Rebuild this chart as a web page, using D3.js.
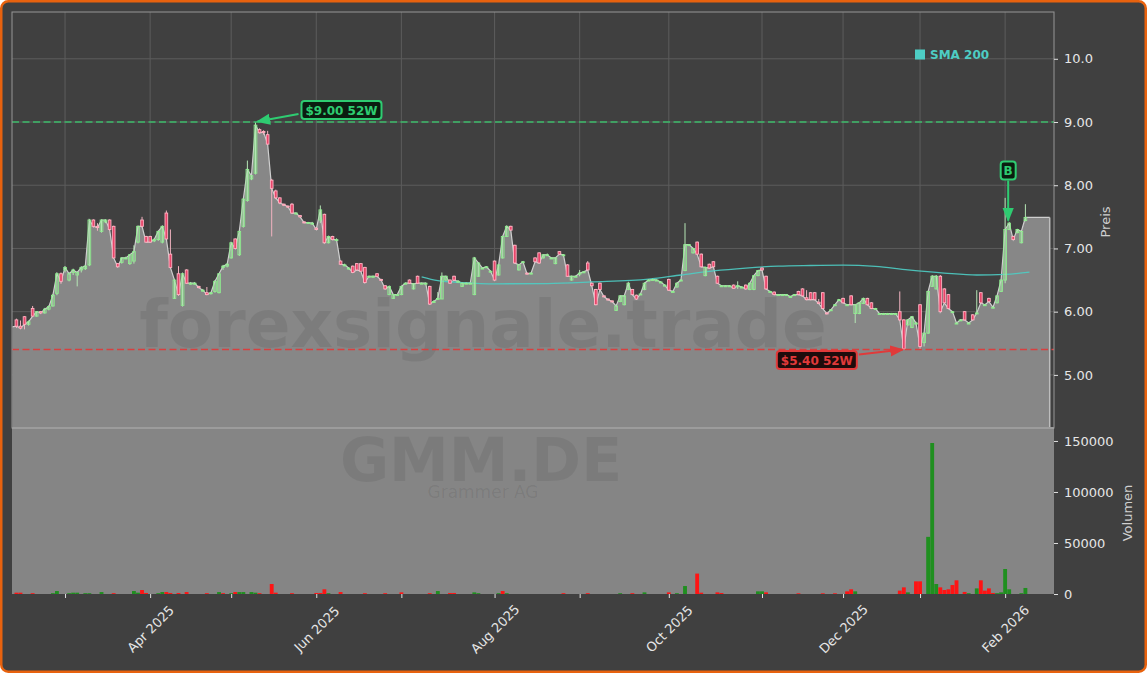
<!DOCTYPE html>
<html>
<head>
<meta charset="utf-8">
<script src="https://cdn.jsdelivr.net/npm/d3@7"></script>
<style>
  body { margin: 0; background: #fff; }
  svg { display: block; font-family: "DejaVu Sans", sans-serif; }
</style>
</head>
<body>
<svg id="chart"></svg>
<script>
// daily bars, trading day index 0 = 13 Feb 2025
const openP = [
  5.87,5.77,5.92,5.80,6.05,5.93,6.00,5.98,6.04,6.09, 6.29,6.60,6.66,6.50,6.62,6.58,6.66,6.68,6.74,7.45,
  7.35,7.27,7.42,7.45,7.35,6.76,6.78,6.85,6.76,6.80, 7.10,7.45,7.19,7.19,7.12,7.14,7.10,7.56,6.91,6.21,
  6.60,6.10,6.66,6.45,6.45,6.40,6.34,6.30,6.29,6.32, 6.30,6.70,6.72,6.85,7.15,6.90,7.35,7.76,8.10,8.19,
  8.88,8.85,8.80,8.08,7.91,7.80,7.70,7.67,7.70,7.56, 7.52,7.42,7.41,7.40,7.32,7.45,7.54,7.09,7.19,7.14,
  6.80,6.74,6.69,6.72,6.76,6.76,6.70,6.56,6.56,6.60, 6.51,6.41,6.27,6.21,6.27,6.27,6.45,6.50,6.36,6.56,
  6.45,6.45,6.40,6.16,6.21,6.20,6.50,6.50,6.56,6.48, 6.40,6.45,6.45,6.27,6.56,6.69,6.71,6.64,6.80,6.58,
  6.85,7.19,7.35,7.05,6.66,6.79,6.61,6.60,6.85,6.93, 6.85,6.90,6.85,6.76,6.95,6.90,6.74,6.50,6.56,6.61,
  6.63,6.77,6.45,6.35,6.45,6.25,6.20,6.17,6.02,6.16, 6.11,6.35,6.35,6.26,6.28,6.35,6.50,6.51,6.50,6.47,
  6.42,6.51,6.32,6.39,6.50,6.65,7.06,6.93,7.10,6.91, 6.57,6.75,6.79,6.56,6.41,6.41,6.41,6.42,6.41,6.39,
  6.42,6.35,6.35,6.57,6.69,6.56,6.32,6.31,6.27,6.27, 6.27,6.24,6.27,6.32,6.36,6.22,6.30,6.30,6.15,6.30,
  5.98,6.03,6.11,6.19,6.21,6.11,6.25,5.97,5.97,6.13, 6.21,6.14,6.05,5.97,5.97,5.97,5.97,5.97,6.00,5.87,
  5.79,5.75,5.82,6.11,5.51,5.66,6.40,6.36,6.56,6.36, 6.27,6.00,5.82,5.87,6.00,5.82,5.95,5.98,6.30,6.11,
  6.21,6.07,6.14,6.32,6.50,7.30,7.19,7.25,7.09,7.44
];
const highP = [
  5.89,5.86,5.93,5.86,6.09,6.01,6.01,6.06,6.10,6.28, 6.62,6.62,6.72,6.62,6.68,6.64,6.72,6.74,7.46,7.46,
  7.40,7.46,7.46,7.46,7.36,6.77,6.86,6.87,6.91,7.05, 7.36,7.50,7.20,7.20,7.16,7.28,7.36,7.60,7.30,6.52,
  6.72,6.61,6.67,6.47,6.47,6.41,6.36,6.39,6.31,6.50, 6.61,6.74,6.77,7.10,7.16,7.28,7.80,8.39,8.16,9.00,
  8.90,8.87,8.86,8.10,7.93,7.81,7.71,7.68,7.72,7.57, 7.53,7.43,7.42,7.42,7.34,7.68,7.55,7.20,7.20,7.16,
  6.81,6.76,6.70,6.73,6.77,6.77,6.71,6.57,6.57,6.61, 6.52,6.42,6.41,6.28,6.28,6.41,6.46,6.51,6.45,6.57,
  6.46,6.46,6.41,6.18,6.31,6.62,6.57,6.51,6.57,6.50, 6.46,6.46,6.46,6.86,6.78,6.70,6.72,6.65,6.81,6.75,
  7.20,7.36,7.36,7.06,6.75,6.80,6.62,6.62,6.86,6.94, 6.91,6.92,6.86,6.86,6.96,6.91,6.75,6.57,6.57,6.66,
  6.64,6.80,6.46,6.36,6.46,6.26,6.21,6.18,6.10,6.26, 6.26,6.46,6.36,6.27,6.29,6.46,6.51,6.52,6.51,6.48,
  6.43,6.52,6.33,6.46,6.51,7.40,7.07,7.01,7.11,6.92, 6.71,6.76,6.80,6.57,6.42,6.42,6.42,6.43,6.48,6.40,
  6.43,6.46,6.58,6.66,6.70,6.57,6.33,6.32,6.28,6.28, 6.28,6.25,6.28,6.33,6.37,6.34,6.31,6.31,6.20,6.31,
  5.99,6.04,6.12,6.20,6.22,6.12,6.26,6.12,6.15,6.22, 6.22,6.15,6.06,5.98,5.98,5.98,5.98,5.98,6.32,5.88,
  5.88,5.93,5.84,6.12,5.67,6.33,6.58,6.58,6.58,6.37, 6.28,6.01,5.83,5.88,6.01,5.83,5.96,6.34,6.31,6.12,
  6.22,6.08,6.26,6.51,7.80,7.41,7.20,7.31,7.28,7.70
];
const lowP = [
  5.74,5.72,5.72,5.78,5.92,5.92,5.96,5.97,6.02,6.08, 6.26,6.44,6.62,6.48,6.58,6.40,6.62,6.66,6.72,7.33,
  7.28,7.25,7.40,7.28,6.84,6.70,6.76,6.83,6.74,6.76, 7.08,7.33,7.10,7.10,7.10,7.12,7.08,7.14,6.68,6.20,
  6.25,6.08,6.44,6.43,6.43,6.37,6.32,6.26,6.27,6.30, 6.29,6.66,6.70,6.84,7.00,6.88,7.33,7.74,8.08,8.17,
  8.82,8.80,8.64,7.19,7.78,7.70,7.67,7.64,7.55,7.54, 7.49,7.40,7.39,7.38,7.29,7.40,7.08,7.08,7.13,7.12,
  6.74,6.72,6.67,6.61,6.65,6.63,6.45,6.54,6.54,6.55, 6.49,6.35,6.26,6.20,6.26,6.26,6.44,6.44,6.35,6.44,
  6.44,6.44,6.11,6.15,6.20,6.20,6.49,6.45,6.50,6.47, 6.39,6.44,6.44,6.26,6.55,6.68,6.70,6.63,6.49,6.57,
  6.84,7.18,7.28,6.76,6.65,6.78,6.59,6.59,6.78,6.76, 6.84,6.89,6.84,6.75,6.90,6.89,6.55,6.49,6.55,6.56,
  6.62,6.65,6.40,6.10,6.34,6.23,6.18,6.15,6.01,6.15, 6.10,6.34,6.26,6.19,6.27,6.34,6.49,6.50,6.49,6.46,
  6.41,6.33,6.31,6.38,6.49,6.64,7.05,6.92,6.90,6.70, 6.56,6.68,6.70,6.44,6.40,6.40,6.40,6.36,6.36,6.38,
  6.35,6.34,6.34,6.56,6.65,6.35,6.31,6.26,6.26,6.26, 6.26,6.23,6.26,6.26,6.24,6.18,6.18,6.18,6.12,6.04,
  5.96,6.02,6.10,6.18,6.13,6.10,6.10,5.82,5.96,6.12, 6.10,6.04,6.04,5.96,5.96,5.96,5.96,5.96,5.85,5.40,
  5.78,5.74,5.80,5.40,5.45,5.65,6.39,6.35,5.99,6.13, 6.04,5.99,5.81,5.86,5.86,5.81,5.86,5.97,6.13,6.10,
  6.15,6.06,6.13,6.31,6.45,7.29,7.13,7.24,7.08,7.43
];
// close runs six sessions past the last candle (flat to the end of the chart)
const closeP = [
  5.77,5.74,5.80,5.84,5.93,6.00,5.98,6.04,6.08,6.26, 6.60,6.48,6.70,6.60,6.66,6.62,6.70,6.72,7.45,7.35,
  7.33,7.45,7.45,7.30,6.85,6.71,6.85,6.85,6.90,6.95, 7.35,7.35,7.10,7.10,7.14,7.27,7.35,7.15,6.70,6.50,
  6.27,6.60,6.45,6.45,6.45,6.38,6.34,6.27,6.30,6.48, 6.60,6.72,6.75,7.09,7.00,7.27,7.78,8.25,8.15,8.95,
  8.83,8.84,8.65,7.95,7.80,7.72,7.69,7.66,7.56,7.56, 7.50,7.41,7.41,7.40,7.30,7.61,7.09,7.19,7.14,7.14,
  6.75,6.74,6.69,6.62,6.66,6.64,6.46,6.56,6.56,6.56, 6.50,6.36,6.40,6.27,6.27,6.40,6.45,6.45,6.44,6.45,
  6.45,6.45,6.12,6.16,6.21,6.56,6.56,6.45,6.50,6.48, 6.45,6.45,6.45,6.85,6.77,6.69,6.71,6.64,6.50,6.74,
  7.19,7.35,7.29,6.77,6.74,6.79,6.60,6.61,6.79,6.77, 6.90,6.90,6.85,6.85,6.91,6.90,6.56,6.56,6.56,6.61,
  6.63,6.66,6.41,6.11,6.35,6.24,6.19,6.16,6.09,6.25, 6.25,6.45,6.27,6.20,6.28,6.45,6.50,6.51,6.50,6.47,
  6.42,6.34,6.32,6.45,6.50,7.06,7.06,7.00,6.91,6.71, 6.70,6.69,6.71,6.45,6.41,6.41,6.41,6.37,6.41,6.39,
  6.36,6.45,6.57,6.65,6.66,6.36,6.32,6.27,6.27,6.27, 6.27,6.24,6.27,6.27,6.25,6.19,6.19,6.19,6.13,6.05,
  5.97,6.03,6.11,6.19,6.14,6.11,6.11,6.11,6.14,6.21, 6.11,6.05,6.05,5.97,5.97,5.97,5.97,5.97,5.87,5.41,
  5.87,5.92,5.82,5.45,5.66,6.32,6.56,6.56,6.00,6.14, 6.05,6.00,5.82,5.87,5.87,5.82,5.87,5.98,6.14,6.11,
  6.16,6.07,6.25,6.50,7.30,7.40,7.14,7.30,7.27,7.49, 7.49,7.49,7.49,7.49,7.49,7.49
];
// close of the session before the first bar (area starts at the left edge)
const priorClose = 5.76;

// volume, only sessions with trades
const volDay = [0,1,4,9,10,13,14,15,17,18,21,24,29,30,31,32,35,36,37,38,40,42,47,50,51,53,54,55,56,58,59,60,63,64,68,74,75,76,77,80,86,91,95,102,104,107,108,113,114,119,120,121,135,141,149,152,155,161,163,165,168,169,173,174,183,184,185,193,199,202,205,206,207,218,219,220,222,223,225,226,227,228,229,230,231,232,234,235,237,238,239,240,241,242,243,244,245,248,249];
const volAmount = [1300,1300,800,800,2900,800,1300,1300,800,800,1900,800,2900,1300,3900,1000,800,1900,1900,1000,1000,1900,800,1900,800,800,1900,1900,1900,1900,1300,800,9800,1300,800,1000,1000,4600,800,1900,800,800,1600,800,2900,1000,1000,1600,800,800,2900,800,800,800,800,800,1600,1600,800,7800,20000,1300,1600,1000,2600,2600,1600,700,700,700,2600,4600,2600,3300,6500,1600,12400,12400,56000,148000,9800,6500,3900,4600,8800,13400,2000,800,5500,13400,3300,5500,1000,800,1600,24500,4600,800,5900];
const volUp = [0,0,0,1,1,1,1,1,1,1,1,0,1,1,0,0,1,1,0,0,0,0,0,1,0,1,0,1,1,1,1,0,0,0,0,0,0,0,1,0,0,0,0,0,1,0,0,1,1,1,0,1,0,0,1,0,1,0,1,1,0,0,0,0,1,1,0,0,0,0,0,0,1,0,0,1,0,0,1,1,1,0,0,0,0,0,0,1,1,0,0,0,0,1,1,1,1,1,1];

// SMA 200
const smaDay = [100,104,110,118,131,142,156,164,172,180,188,196,204,212,220,229,237,244,250];
const smaValue = [6.55,6.49,6.46,6.44,6.445,6.47,6.515,6.58,6.645,6.69,6.72,6.73,6.735,6.715,6.66,6.61,6.58,6.59,6.625];

// month ticks (first session of each month)
const monthDay = [12,33,53,74,95,118,139,161,184,204,223,244];
const monthLabel = ["","Apr 2025","","Jun 2025","","Aug 2025","","Oct 2025","","Dec 2025","","Feb 2026"];

const priceTicks = [5,6,7,8,9,10];
const priceTickLabels = ["5.00","6.00","7.00","8.00","9.00","10.0"];
const volTicks = [0,50000,100000,150000];

const high52 = 9.00, high52Day = 59;
const low52 = 5.40, low52Day = 219;
const buyDay = 245;

function getConfig() {
  let width = 1147, height = 673;
  let plot = { left: 12, right: 1054, top: 12, mid: 428, bottom: 594 };
  let container = d3.select("#chart").attr("width", width).attr("height", height);
  return { width, height, plot, container };
}

function getScales(config) {
  let { plot } = config;
  let x = d3.scaleLinear().domain([-1.09, 256.06]).range([plot.left, plot.right]);
  let y = d3.scaleLinear().domain([4.16, 10.74]).range([plot.mid, plot.top]);
  let yv = d3.scaleLinear().domain([0, 162700]).range([plot.bottom, plot.mid]);
  return { x, y, yv };
}

function drawFrame(config) {
  let { container, width, height, plot } = config;
  container.append("rect")
    .attr("x", 1.25).attr("y", 1.25)
    .attr("width", width - 2.5).attr("height", height - 2.5)
    .attr("rx", 7)
    .attr("fill", "#404040")
    .attr("stroke", "#e8620e")
    .attr("stroke-width", 2.5);
  container.append("clipPath").attr("id", "priceClip")
    .append("rect")
    .attr("x", plot.left).attr("y", plot.top)
    .attr("width", plot.right - plot.left).attr("height", plot.mid - plot.top);
}

function drawGrid(config, scales) {
  let { container, plot } = config;
  let { x, y } = scales;
  let g = container.append("g").attr("stroke", "#5c5c5c").attr("stroke-width", 1);
  g.selectAll(".hg").data(priceTicks).enter().append("line")
    .attr("x1", plot.left).attr("x2", plot.right)
    .attr("y1", d => y(d)).attr("y2", d => y(d));
  g.selectAll(".vg").data(monthDay).enter().append("line")
    .attr("x1", d => x(d)).attr("x2", d => x(d))
    .attr("y1", plot.top).attr("y2", plot.mid);
}

function drawPriceArea(config, scales) {
  let { container, plot } = config;
  let { x, y } = scales;
  let pts = [[-1, priorClose]].concat(closeP.map((c, i) => [i, c]));
  let area = d3.area()
    .x(d => x(d[0]))
    .y0(plot.mid)
    .y1(d => y(d[1]));
  let line = d3.line().x(d => x(d[0])).y(d => y(d[1]));
  let g = container.append("g").attr("clip-path", "url(#priceClip)");
  g.append("path")
    .attr("d", area(pts))
    .attr("fill", "#878787");
  g.append("path")
    .attr("d", line(pts))
    .attr("fill", "none")
    .attr("stroke", "#cfcfcf")
    .attr("stroke-width", 1.2);
  // right edge of the filled area
  let last = closeP.length - 1;
  g.append("line")
    .attr("x1", x(last)).attr("x2", x(last))
    .attr("y1", y(closeP[last])).attr("y2", plot.mid)
    .attr("stroke", "#bdbdbd").attr("stroke-width", 1.5);
}

function drawVolumePanel(config, scales) {
  let { container, plot } = config;
  let { x, yv } = scales;
  container.append("rect")
    .attr("x", plot.left).attr("y", plot.mid)
    .attr("width", plot.right - plot.left).attr("height", plot.bottom - plot.mid)
    .attr("fill", "#858585");

  // watermark
  container.append("text")
    .attr("x", 481).attr("y", 481)
    .attr("text-anchor", "middle")
    .attr("font-size", 60).attr("font-weight", "bold")
    .attr("fill", "#000").attr("fill-opacity", 0.075)
    .text("GMM.DE");
  container.append("text")
    .attr("x", 483).attr("y", 498)
    .attr("text-anchor", "middle")
    .attr("font-size", 17)
    .attr("fill", "#000").attr("fill-opacity", 0.08)
    .text("Grammer AG");

  let step = x(1) - x(0);
  let bw = step * 0.95;
  container.append("g").selectAll("rect")
    .data(volDay)
    .enter().append("rect")
    .attr("x", d => x(d) - bw / 2)
    .attr("width", bw)
    .attr("y", (d, i) => yv(volAmount[i]))
    .attr("height", (d, i) => plot.bottom - yv(volAmount[i]))
    .attr("fill", (d, i) => volUp[i] ? "#1f8f1f" : "#ff1414");

  container.append("line")
    .attr("x1", plot.left).attr("x2", plot.right)
    .attr("y1", plot.mid).attr("y2", plot.mid)
    .attr("stroke", "#a2a2a2").attr("stroke-width", 2);
}

function drawWatermark(config) {
  config.container.append("text")
    .attr("x", 483).attr("y", 347)
    .attr("text-anchor", "middle")
    .attr("font-size", 66).attr("font-weight", "bold")
    .attr("fill", "#000").attr("fill-opacity", 0.08)
    .text("forexsignale.trade");
}

function drawSMA(config, scales) {
  let { x, y } = scales;
  let line = d3.line()
    .x((d, i) => x(smaDay[i]))
    .y(d => y(d))
    .curve(d3.curveMonotoneX);
  config.container.append("path")
    .attr("d", line(smaValue))
    .attr("fill", "none")
    .attr("stroke", "#4ecdc4")
    .attr("stroke-opacity", 0.9)
    .attr("stroke-width", 1.3);
}

function drawCandles(config, scales) {
  let { x, y } = scales;
  let step = x(1) - x(0);
  let bw = step * 0.66;
  let g = config.container.append("g");
  let candles = g.selectAll(".c").data(openP).enter().append("g");
  candles.append("line")
    .attr("x1", (d, i) => x(i)).attr("x2", (d, i) => x(i))
    .attr("y1", (d, i) => y(highP[i])).attr("y2", (d, i) => y(lowP[i]))
    .attr("stroke", (d, i) => closeP[i] >= d ? "#b5e6b5" : "#f2b3c0")
    .attr("stroke-width", 1);
  candles.append("rect")
    .attr("x", (d, i) => x(i) - bw / 2)
    .attr("width", bw)
    .attr("y", (d, i) => y(Math.max(d, closeP[i])))
    .attr("height", (d, i) => Math.max(1, Math.abs(y(d) - y(closeP[i]))))
    .attr("fill", (d, i) => closeP[i] >= d ? "none" : "#e8456a")
    .attr("stroke", (d, i) => closeP[i] >= d ? "#8fee8f" : "#ffb3c3")
    .attr("stroke-width", 0.9);
}

function drawLevels(config, scales) {
  let { container, plot } = config;
  let { x, y } = scales;
  let green = "#2ecc71", red = "#e03a3a";

  let defs = container.append("defs");
  [["arrG", green], ["arrR", red]].forEach(([id, c]) => {
    defs.append("marker").attr("id", id)
      .attr("viewBox", "0 0 10 10").attr("refX", 9).attr("refY", 5)
      .attr("markerWidth", 7).attr("markerHeight", 7)
      .attr("orient", "auto")
      .append("path").attr("d", "M0,1 L10,5 L0,9 Z").attr("fill", c);
  });

  container.append("line")
    .attr("x1", plot.left).attr("x2", plot.right)
    .attr("y1", y(high52)).attr("y2", y(high52))
    .attr("stroke", "#3dbb6a").attr("stroke-width", 1.5)
    .attr("stroke-dasharray", "7,3.5");
  container.append("line")
    .attr("x1", plot.left).attr("x2", plot.right)
    .attr("y1", y(low52)).attr("y2", y(low52))
    .attr("stroke", "#d84040").attr("stroke-width", 1.5)
    .attr("stroke-dasharray", "7,3.5");

  // 52W high label
  let hx = x(high52Day), hy = y(high52);
  container.append("line")
    .attr("x1", hx + 43).attr("y1", hy - 8)
    .attr("x2", hx + 2).attr("y2", hy - 0.5)
    .attr("stroke", green).attr("stroke-width", 2)
    .attr("marker-end", "url(#arrG)");
  container.append("rect")
    .attr("x", hx + 46).attr("y", hy - 21)
    .attr("width", 80).attr("height", 18).attr("rx", 3)
    .attr("fill", "#0b1d10").attr("stroke", green).attr("stroke-width", 2);
  container.append("text")
    .attr("x", hx + 86).attr("y", hy - 7.5)
    .attr("text-anchor", "middle")
    .attr("font-size", 12).attr("font-weight", "bold")
    .attr("fill", green)
    .text(`$${high52.toFixed(2)} 52W`);

  // 52W low label
  let lx = x(low52Day), ly = y(low52);
  container.append("line")
    .attr("x1", lx - 45).attr("y1", ly + 5)
    .attr("x2", lx - 1).attr("y2", ly)
    .attr("stroke", red).attr("stroke-width", 2)
    .attr("marker-end", "url(#arrR)");
  container.append("rect")
    .attr("x", lx - 127).attr("y", ly + 1.5)
    .attr("width", 80).attr("height", 18).attr("rx", 3)
    .attr("fill", "#1e0c0c").attr("stroke", red).attr("stroke-width", 2);
  container.append("text")
    .attr("x", lx - 87).attr("y", ly + 15)
    .attr("text-anchor", "middle")
    .attr("font-size", 12).attr("font-weight", "bold")
    .attr("fill", red)
    .text(`$${low52.toFixed(2)} 52W`);

  // buy signal
  let bx = x(buyDay) - 1, by = y(highP[buyDay]);
  container.append("line")
    .attr("x1", bx).attr("x2", bx)
    .attr("y1", by - 42).attr("y2", by - 2)
    .attr("stroke", green).attr("stroke-width", 2)
    .attr("marker-end", "url(#arrG)");
  container.append("rect")
    .attr("x", bx - 7.5).attr("y", by - 61)
    .attr("width", 15).attr("height", 18).attr("rx", 3)
    .attr("fill", "#0b1d10").attr("stroke", green).attr("stroke-width", 2);
  container.append("text")
    .attr("x", bx).attr("y", by - 47.5)
    .attr("text-anchor", "middle")
    .attr("font-size", 12).attr("font-weight", "bold")
    .attr("fill", green)
    .text("B");
}

function drawLegend(config) {
  let g = config.container.append("g");
  g.append("rect").attr("x", 915).attr("y", 49.5).attr("width", 10).attr("height", 10)
    .attr("fill", "#4ecdc4");
  g.append("text").attr("x", 930).attr("y", 58.5)
    .attr("font-size", 12).attr("font-weight", "bold")
    .attr("fill", "#4ecdc4")
    .text("SMA 200");
}

function drawAxes(config, scales) {
  let { container, plot } = config;
  let { x, y, yv } = scales;

  container.append("rect")
    .attr("x", plot.left).attr("y", plot.top)
    .attr("width", plot.right - plot.left).attr("height", plot.mid - plot.top)
    .attr("fill", "none").attr("stroke", "#969696").attr("stroke-width", 1);

  let axisP = d3.axisRight(y).tickValues(priceTicks)
    .tickFormat((d, i) => priceTickLabels[i]).tickSize(4).tickPadding(6);
  let gp = container.append("g")
    .attr("transform", `translate(${plot.right},0)`)
    .call(axisP);

  let axisV = d3.axisRight(yv).tickValues(volTicks).tickSize(4).tickPadding(6)
    .tickFormat(d3.format("d"));
  let gv = container.append("g")
    .attr("transform", `translate(${plot.right},0)`)
    .call(axisV);

  let axisX = d3.axisBottom(x).tickValues(monthDay)
    .tickFormat((d, i) => monthLabel[i]).tickSize(4);
  let gx = container.append("g")
    .attr("transform", `translate(0,${plot.bottom})`)
    .call(axisX);
  gx.selectAll("text")
    .attr("y", 0).attr("dy", "0.35em")
    .attr("text-anchor", "middle")
    .attr("transform", "translate(0,35) rotate(-45)");

  [gp, gv, gx].forEach(g => {
    g.select(".domain").remove();
    g.selectAll("line").attr("stroke", "#e0e0e0");
    g.selectAll("text")
      .attr("fill", "#e6e6e6")
      .attr("font-size", 13)
      .attr("font-family", "DejaVu Sans, sans-serif");
  });

  container.append("text")
    .attr("transform", "translate(1110,222) rotate(-90)")
    .attr("text-anchor", "middle")
    .attr("font-size", 13).attr("fill", "#d0d0d0")
    .text("Preis");
  container.append("text")
    .attr("transform", "translate(1132,513) rotate(-90)")
    .attr("text-anchor", "middle")
    .attr("font-size", 13).attr("fill", "#d0d0d0")
    .text("Volumen");
}

function drawChart() {
  let config = getConfig();
  let scales = getScales(config);
  drawFrame(config);
  drawGrid(config, scales);
  drawPriceArea(config, scales);
  drawWatermark(config);
  drawVolumePanel(config, scales);
  drawSMA(config, scales);
  drawCandles(config, scales);
  drawLevels(config, scales);
  drawLegend(config);
  drawAxes(config, scales);
}

drawChart();
</script>
</body>
</html>
